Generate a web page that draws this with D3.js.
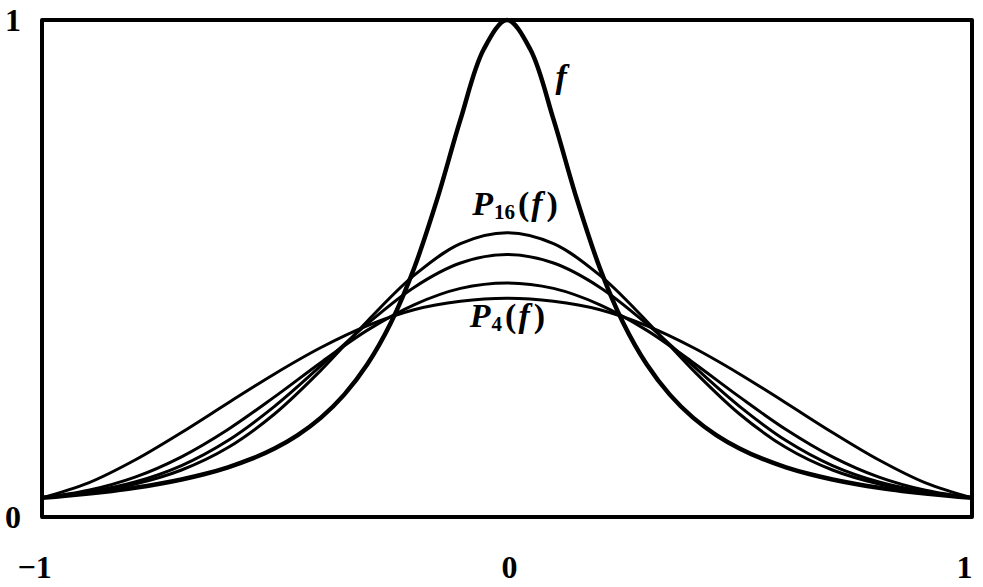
<!DOCTYPE html>
<html>
<head>
<meta charset="utf-8">
<script src="https://cdn.jsdelivr.net/npm/d3@7"></script>
<style>
  html, body { margin: 0; padding: 0; background: #fff; }
  svg { display: block; }
</style>
</head>
<body>
<div id="chart"></div>
<script>
// abscissae for the approximating polynomials
const xGrid = [-1, -0.9, -0.8, -0.7, -0.6, -0.5, -0.4, -0.3, -0.2, -0.1, 0,
               0.1, 0.2, 0.3, 0.4, 0.5, 0.6, 0.7, 0.8, 0.9, 1];

// P_n(f)
const p4  = [0.0385, 0.0686, 0.1146, 0.1700, 0.2294, 0.2879, 0.3410, 0.3850, 0.4170, 0.4340, 0.4400,
             0.4340, 0.4170, 0.3850, 0.3410, 0.2879, 0.2294, 0.1700, 0.1146, 0.0686, 0.0385];
const p8  = [0.0385, 0.0537, 0.0802, 0.1211, 0.1761, 0.2417, 0.3110, 0.3760, 0.4270, 0.4600, 0.4710,
             0.4600, 0.4270, 0.3760, 0.3110, 0.2417, 0.1761, 0.1211, 0.0802, 0.0537, 0.0385];
const p12 = [0.0385, 0.0506, 0.0705, 0.1035, 0.1539, 0.2227, 0.3045, 0.3890, 0.4620, 0.5110, 0.5280,
             0.5110, 0.4620, 0.3890, 0.3045, 0.2227, 0.1539, 0.1035, 0.0705, 0.0506, 0.0385];
const p16 = [0.0385, 0.0494, 0.0665, 0.0946, 0.1398, 0.2073, 0.2955, 0.3945, 0.4860, 0.5500, 0.5720,
             0.5500, 0.4860, 0.3945, 0.2955, 0.2073, 0.1398, 0.0946, 0.0665, 0.0494, 0.0385];

// the function f itself, finer sampling
const fxGrid = [-1, -0.95, -0.9, -0.85, -0.8, -0.75, -0.7, -0.65, -0.6, -0.55, -0.5,
                -0.45, -0.4, -0.35, -0.3, -0.25, -0.2, -0.15, -0.1, -0.05, 0,
                0.05, 0.1, 0.15, 0.2, 0.25, 0.3, 0.35, 0.4, 0.45, 0.5,
                0.55, 0.6, 0.65, 0.7, 0.75, 0.8, 0.85, 0.9, 0.95, 1];
const fVals = [0.0385, 0.0425, 0.0471, 0.0525, 0.0588, 0.0664, 0.0755, 0.0865, 0.1000, 0.1168, 0.1379,
               0.1649, 0.2000, 0.2462, 0.3077, 0.3902, 0.5000, 0.6400, 0.8000, 0.9412, 1.0000,
               0.9412, 0.8000, 0.6400, 0.5000, 0.3902, 0.3077, 0.2462, 0.2000, 0.1649, 0.1379,
               0.1168, 0.1000, 0.0865, 0.0755, 0.0664, 0.0588, 0.0525, 0.0471, 0.0425, 0.0385];

const xTicks = [-1, 0, 1];
const yTicks = [0, 1];

const W = 983, H = 587;
const frame = { left: 42, top: 20, right: 972, bottom: 517 };
const serif = '"Liberation Serif", "DejaVu Serif", serif';

const svg = d3.select('#chart')
    .append('svg')
    .attr('width', W)
    .attr('height', H);

const x = d3.scaleLinear().domain([-1, 1]).range([frame.left, frame.right]);
const y = d3.scaleLinear().domain([0, 1]).range([frame.bottom, frame.top]);

const line = d3.line()
    .x(d => x(d[0]))
    .y(d => y(d[1]))
    .curve(d3.curveCatmullRom);

// approximations, thin strokes
[p4, p8, p12, p16].forEach(vals => {
    svg.append('path')
        .datum(xGrid.map((v, i) => [v, vals[i]]))
        .attr('d', line)
        .attr('fill', 'none')
        .attr('stroke', '#000')
        .attr('stroke-width', 3)
        .attr('stroke-linejoin', 'round');
});

// f, thick stroke
svg.append('path')
    .datum(fxGrid.map((v, i) => [v, fVals[i]]))
    .attr('d', line)
    .attr('fill', 'none')
    .attr('stroke', '#000')
    .attr('stroke-width', 4.5)
    .attr('stroke-linejoin', 'round');

// box
svg.append('rect')
    .attr('x', frame.left)
    .attr('y', frame.top)
    .attr('width', frame.right - frame.left)
    .attr('height', frame.bottom - frame.top)
    .attr('fill', 'none')
    .attr('stroke', '#000')
    .attr('stroke-width', 4)
    .attr('stroke-linejoin', 'round');

// axes: labels only
const xAxis = d3.axisBottom(x)
    .tickValues(xTicks)
    .tickSize(0)
    .tickPadding(38)
    .tickFormat(d => d < 0 ? '\u2212' + Math.abs(d) : d);

const yAxis = d3.axisLeft(y)
    .tickValues(yTicks)
    .tickSize(0)
    .tickPadding(19)
    .tickFormat(d3.format('d'));

const gx = svg.append('g')
    .attr('transform', `translate(0,${frame.bottom})`)
    .call(xAxis);
const gy = svg.append('g')
    .attr('transform', `translate(${frame.left},0)`)
    .call(yAxis);

[gx, gy].forEach(g => {
    g.select('.domain').remove();
    g.selectAll('text')
        .attr('fill', '#000')
        .style('font-family', serif)
        .style('font-weight', 'bold')
        .style('font-size', '32px');
});
gx.selectAll('text').attr('dx', d => d === 0 ? 2 : -8);
gy.selectAll('text').attr('dx', -2);

// curve labels
function label(px, py, parts) {
    const t = svg.append('text')
        .attr('x', px)
        .attr('y', py)
        .style('font-family', serif)
        .style('font-weight', 'bold')
        .style('font-size', '34px')
        .attr('fill', '#000');
    parts.forEach(p => {
        t.append('tspan')
            .attr('dy', p.dy || 0)
            .attr('dx', p.dx || 0)
            .style('font-style', p.italic ? 'italic' : 'normal')
            .style('font-size', p.size || null)
            .text(p.text);
    });
}

label(x(0.1) + 2, 88, [{ text: 'f', italic: true }]);
label(x(-0.075), 215, [
    { text: 'P', italic: true },
    { text: '16', size: '21px', dy: 4, dx: 1 },
    { text: '(', dy: -4, dx: 3 },
    { text: 'f', italic: true, dx: 2 },
    { text: ')', dx: 4 }
]);
label(x(-0.08), 327, [
    { text: 'P', italic: true },
    { text: '4', size: '21px', dy: 4, dx: 1 },
    { text: '(', dy: -4, dx: 3 },
    { text: 'f', italic: true, dx: 2 },
    { text: ')', dx: 4 }
]);
</script>
</body>
</html>
